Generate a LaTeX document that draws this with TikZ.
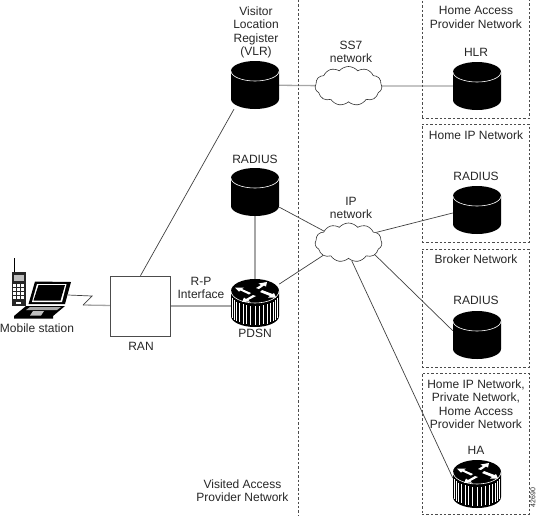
\documentclass[tikz,border=0pt]{standalone}
\usepackage{fontspec}
\setmainfont{Liberation Sans}
\usetikzlibrary{shapes.symbols,backgrounds,calc}
\tikzset{
  lbl/.style={align=center,inner sep=0pt,font=\fontsize{12}{13.4}\selectfont,text=black!85},
  thinlink/.style={draw=black!75,line width=0.7pt},
  graylink/.style={draw=black!35,line width=1.3pt},
  zone/.style={draw=black!70,dash pattern=on 2.4pt off 2pt,line width=0.6pt},
  netcloud/.style={cloud,cloud puffs=11,cloud puff arc=100,aspect=1.8,draw=black!80,fill=white,line width=0.6pt,minimum width=67pt,minimum height=39pt,inner sep=0pt},
  box/.style={draw=black!70,fill=white,line width=0.7pt,minimum size=60pt,inner sep=0pt},
  holder/.style={minimum width=48pt,minimum height=48pt,inner sep=0pt},
  gear/.style={fill=white,draw=none},
}
\newcommand{\dbase}[3]{% name, x, y centre
  \node[holder] (#1) at (#2,#3) {};
  \begin{scope}[shift={(#1.center)}]
    \fill[black] (-24,-14) -- (-24,14) arc[start angle=180,end angle=0,x radius=24,y radius=10] -- (24,-14) -- cycle;
    \fill[black] (0,-14) ellipse[x radius=24,y radius=10];
    \draw[white,line width=0.6pt] (-24,-14) arc[start angle=180,end angle=0,x radius=24,y radius=10];
  \end{scope}
}
\newcommand{\routr}[3]{%
  \node[holder] (#1) at (#2,#3) {};
  \begin{scope}[shift={(#1.center)}]
    \fill[black] (-24,-12) -- (-24,13) arc[start angle=180,end angle=0,x radius=24,y radius=11] -- (24,-12) -- cycle;
    \foreach \a in {200,210,...,340} {
      \draw[white,line width=0.7pt] ({24*cos(\a)},{-12-12*sin(\a)+3}) -- ({24*cos(\a)},{13-11*sin(\a)-2});
    }
    \fill[black] (0,-12) ellipse[x radius=24,y radius=12];
    \draw[white,line width=0.6pt] (-24,-12) arc[start angle=180,end angle=0,x radius=24,y radius=12];
    % four white arrows on the lid
    \fill[gear] (-4,-10) -- (-13,-14) -- (-11,-15.5) -- (-20,-15.5) -- (-16,-11.5) -- (-14.5,-12.5) -- (-6,-8.5) -- cycle;
    \fill[gear] (-2,-8) -- (-9,-4) -- (-11,-5.5) -- (-13,-1) -- (-5,-1.5) -- (-6.5,-3) -- (1,-7) -- cycle;
    \fill[gear] (1,-15) -- (6,-18) -- (3.5,-19.5) -- (12,-21) -- (11,-16.5) -- (9,-17.5) -- (4,-14) -- cycle;
    \fill[gear] (5,-11) -- (15,-7) -- (13,-5.5) -- (21,-5.5) -- (19,-10) -- (17.5,-9) -- (7,-13) -- cycle;
  \end{scope}
}
\begin{document}
\begin{tikzpicture}[x=1pt,y=-1pt]
\useasboundingbox (0,0) rectangle (540,515);
% zones
\node[zone,minimum width=107pt,minimum height=119pt,inner sep=0pt] (zhome) at (475.5,59) {};
\node[zone,minimum width=107pt,minimum height=118pt,inner sep=0pt] (zip) at (475.5,183) {};
\node[zone,minimum width=107pt,minimum height=118pt,inner sep=0pt] (zbroker) at (475.5,308) {};
\node[zone,minimum width=107pt,minimum height=141pt,inner sep=0pt] (zha) at (475.5,443.5) {};
\coordinate (divtop) at (298,0);
\coordinate (divbot) at (298,515);
\draw[zone] (divtop) -- (divbot);
% devices
\dbase{vlr}{255}{85}
\dbase{radv}{255}{192}
\dbase{hlr}{477}{86}
\dbase{radh}{477}{210}
\dbase{radb}{477}{335}
\routr{pdsn}{255}{303}
\routr{ha}{477}{484}
\node[box] (ran) at (140.5,306) {};
\node[netcloud] (ss7) at (348.5,86) {};
\node[netcloud] (ip) at (348.5,242.5) {};
% mobile station
\coordinate (laptop) at (68,295);
\coordinate (zig1) at (92,296);
\coordinate (zig2) at (83,305);
\begin{scope}
  \draw[black,line width=1pt] (14,258) -- (14,273);
  \fill[black!85] (11.5,272) rectangle (25.5,306);
  \fill[black!25] (13.5,275) rectangle (23.5,281);
  \foreach \yy in {284,288,292,296} \foreach \xx in {14,18,22}
    \fill[white] (\xx-1,\yy) rectangle (\xx+1.5,\yy+2.6);
  \fill[white] (16,302) rectangle (21,304);
  \fill[black] (35,281.5) -- (71,282) -- (65,304) -- (28.5,304) -- cycle;
  \fill[white] (37,284) -- (66.5,284) -- (62,302) -- (32,302) -- cycle;
  \fill[black] (38.5,285) -- (65,285) -- (60.5,300.5) -- (33.5,300.5) -- cycle;
  \fill[black] (26,306) -- (65,306) -- (53,316) -- (53,318.5) -- (14,318.5) -- (14,316) -- cycle;
  \fill[white,opacity=.65] (30,307) -- (61,307) -- (57,310) -- (26,310) -- cycle;
  \fill[white,opacity=.75] (33,311) -- (44,311) -- (41,315.5) -- (30,315.5) -- cycle;
\end{scope}
% connectors
\begin{scope}[on background layer]
  \draw[thinlink] (ran.north) -- (vlr.229);
  \draw[graylink] (vlr) -- (ss7);
  \draw[graylink] (ss7) -- (hlr);
  \draw[graylink] (radv) -- (pdsn);
  \draw[graylink] (ran) -- (pdsn.west |- ran);
  \draw[thinlink] (radv.-32) -- (ip.155);
  \draw[thinlink] (pdsn.38) -- (ip.207);
  \draw[thinlink] (ip.20) -- (radh.187);
  \draw[thinlink] (ip.-25) -- (radb.170);
  \draw[thinlink] (ip.-80) -- (ha.166);
  \draw[graylink] (ran) -- (zig2);
  \draw[thinlink] (zig2) -- (zig1) -- (laptop);
\end{scope}
% labels
\node[lbl] (lvlr) at (256,32.5) {Visitor\\Location\\Register\\(VLR)};
\node[lbl] (lss7) at (351,52) {SS7\\network};
\node[lbl] (lhlr) at (476,52) {HLR};
\node[lbl] (lhome) at (476,17.5) {Home Access\\Provider Network};
\node[lbl] (lhip) at (476,135) {Home IP Network};
\node[lbl] (lrh) at (476,176) {RADIUS};
\node[lbl] (lbk) at (476,259) {Broker Network};
\node[lbl] (lrb) at (476,300) {RADIUS};
\node[lbl] (lprv) at (476,404) {Home IP Network,\\Private Network,\\Home Access\\Provider Network};
\node[lbl] (lha) at (476,450) {HA};
\node[lbl] (lrv) at (255,159) {RADIUS};
\node[lbl] (lip) at (351,208) {IP\\network};
\node[lbl] (lrp) at (201,288) {R-P\\Interface};
\node[lbl] (lpd) at (255,333) {PDSN};
\node[lbl] (lran) at (141,346) {RAN};
\node[lbl] (lms) at (37,328) {Mobile station};
\node[lbl] (lvis) at (242.5,490.5) {Visited Access\\Provider Network};
\node[lbl,font=\fontsize{7}{8}\selectfont,rotate=90] (lid) at (533,497.5) {42690};
\end{tikzpicture}
\end{document}
